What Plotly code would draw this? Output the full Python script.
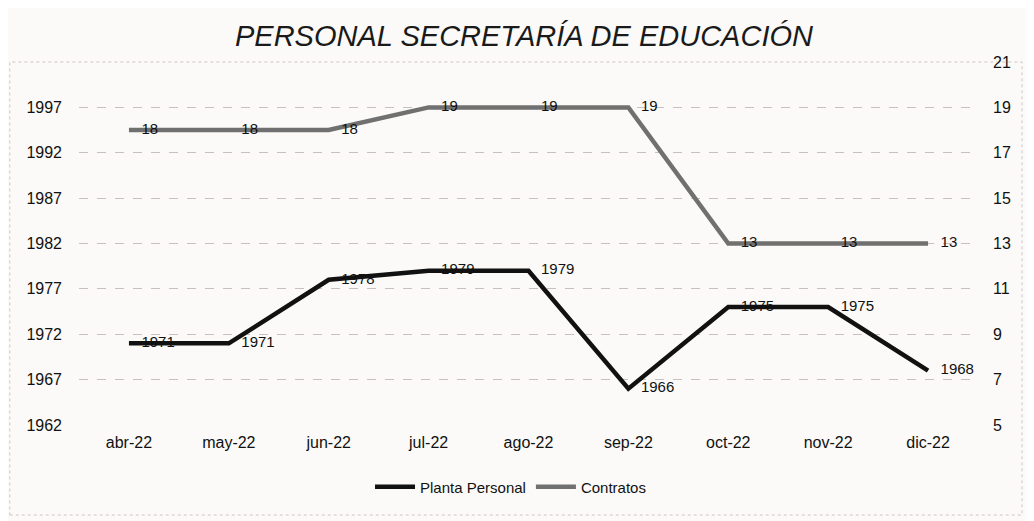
import plotly.graph_objects as go

months = ["abr-22", "may-22", "jun-22", "jul-22", "ago-22", "sep-22", "oct-22", "nov-22", "dic-22"]
planta = [1971, 1971, 1978, 1979, 1979, 1966, 1975, 1975, 1968]
contratos = [18, 18, 18, 19, 19, 19, 13, 13, 13]
left_ticks = [1962, 1967, 1972, 1977, 1982, 1987, 1992, 1997]
right_ticks = [5, 7, 9, 11, 13, 15, 17, 19, 21]

FONT = "Liberation Sans Narrow, Liberation Sans, Arial"
label_font = dict(family=FONT, size=15, color="#111")
tick_font = dict(family=FONT, size=16, color="#111")
pad = "\u00a0\u00a0\u00a0"

fig = go.Figure()
fig.add_trace(go.Scatter(
    x=months, y=planta, name="Planta Personal", mode="lines+text",
    line=dict(color="#111111", width=4.5),
    text=[pad + str(v) for v in planta], textposition="middle right",
    textfont=label_font, yaxis="y", cliponaxis=False,
))
fig.add_trace(go.Scatter(
    x=months, y=contratos, name="Contratos", mode="lines+text",
    line=dict(color="#707070", width=4.5),
    text=[pad + str(v) for v in contratos], textposition="middle right",
    textfont=label_font, yaxis="y2", cliponaxis=False,
))

fig.update_layout(
    width=1034, height=521,
    margin=dict(l=71, r=64, t=54, b=104),
    paper_bgcolor="#fbfaf8", plot_bgcolor="rgba(0,0,0,0)",
    title=dict(text="<i>PERSONAL SECRETARÍA DE EDUCACIÓN</i>",
               font=dict(family="Liberation Sans, Arial", size=29, color="#1a1a1a"),
               x=0.499, xanchor="center", y=0.947, yanchor="middle"),
    xaxis=dict(showgrid=False, showline=False, ticks="", tickfont=tick_font,
               ticklabelstandoff=6, range=[-0.5, 8.5]),
    yaxis=dict(range=[1962, 2002], tickvals=left_ticks, showgrid=True,
               gridcolor="#c9bfc0", griddash="dash", gridwidth=1,
               zeroline=False, showline=False, tickfont=tick_font, ticklabelstandoff=16),
    yaxis2=dict(range=[5, 21], tickvals=right_ticks, overlaying="y", side="right",
                showgrid=False, zeroline=False, showline=False,
                tickfont=tick_font, ticklabelstandoff=14),
    showlegend=True,
    legend=dict(orientation="h", x=0.48, xanchor="center", y=-0.171, yanchor="middle",
                font=dict(family=FONT, size=15, color="#111"),
                bgcolor="rgba(0,0,0,0)", itemwidth=40, tracegroupgap=0),
)

fig.add_shape(type="rect", xref="paper", yref="paper",
              x0=-0.077, x1=1.049, y0=-0.248, y1=1.0,
              line=dict(color="#cfc6c6", width=1, dash="dot"), layer="below")

fig.write_html("out.html")
